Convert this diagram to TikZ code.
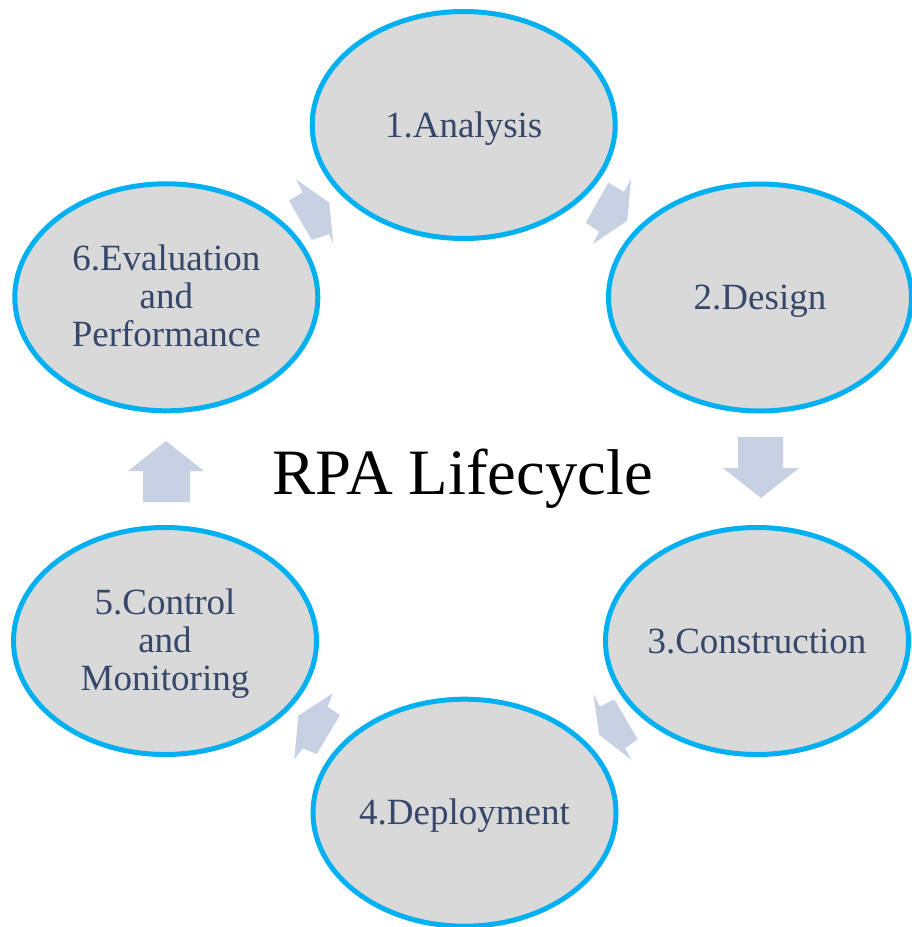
\documentclass[tikz,border=0pt]{standalone}
\usepackage{fontspec}
\setmainfont{Liberation Serif}
\usetikzlibrary{shapes.geometric}
\definecolor{ringblue}{HTML}{00B0F0}
\definecolor{stagefill}{HTML}{D9D9D9}
\definecolor{stagetext}{HTML}{36476A}
\definecolor{arrowfill}{HTML}{C8D0E3}
\tikzset{
  stage/.style={ellipse, draw=ringblue, fill=stagefill, line width=5pt,
    minimum width=303pt, minimum height=227pt, inner sep=0pt},
  lbl/.style={text=stagetext, font=\fontsize{37}{38}\selectfont, inner sep=0pt,
    text height=25pt, text depth=1pt},
  lblmulti/.style={text=stagetext, font=\fontsize{37}{38}\selectfont, inner sep=0pt,
    align=center, yshift=-2.4pt},
  blockarrow/.style={fill=arrowfill, draw=none}
}
\begin{document}
\begin{tikzpicture}[x=1pt,y=-1pt]
\useasboundingbox (0,0) rectangle (911,927);
\fill[white] (0,0) rectangle (911,927);

% block arrows
\fill[blockarrow] (296,179.3) -- (302.7,192.3) -- (289,200.7) -- (311.7,240) -- (329.3,234) -- (333.3,244) -- (329.3,202.7) -- cycle;
\fill[blockarrow] (608.3,182.7) -- (624,191.7) -- (631,179.3) -- (627.3,220.7) -- (592.7,244) -- (599.3,231.7) -- (585.7,222.7) -- cycle;
\fill[blockarrow] (738,437) -- (783,437) -- (783,468) -- (799,468) -- (761,498) -- (723,468) -- (738,468) -- cycle;
\fill[blockarrow] (593.3,694) -- (600,706.7) -- (614.3,699.3) -- (637.7,739.3) -- (625,748.3) -- (631.7,760) -- (599.3,735) -- cycle;
\fill[blockarrow] (332.7,693.3) -- (327.7,706.7) -- (340,715) -- (316.7,754) -- (302.7,748.3) -- (294.3,759.3) -- (298.3,715.7) -- cycle;
\fill[blockarrow] (143,502) -- (190,502) -- (190,471) -- (204,471) -- (166,441) -- (128,471) -- (143,471) -- cycle;

% stages
\node[stage] (s1) at (463.7,125) {};
\node[stage] (s2) at (760,297.5) {};
\node[stage] (s3) at (757,641) {};
\node[stage] (s4) at (464.5,812.7) {};
\node[stage] (s5) at (165,641) {};
\node[stage] (s6) at (166.3,297.3) {};

\node[lbl] (t1) at (s1.center) {1.Analysis};
\node[lbl] (t2) at (s2.center) {2.Design};
\node[lbl] (t3) at (s3.center) {3.Construction};
\node[lbl] (t4) at (s4.center) {4.Deployment};
\node[lblmulti] (t5) at (s5.center) {5.Control\\and\\Monitoring\vphantom{g}};
\node[lblmulti] (t6) at (s6.center) {6.Evaluation\\and\\Performance\vphantom{g}};

\node[anchor=base, font=\fontsize{64.7}{70}\selectfont, inner sep=0pt] (title) at (463,494) {RPA Lifecycle};
\end{tikzpicture}
\end{document}
